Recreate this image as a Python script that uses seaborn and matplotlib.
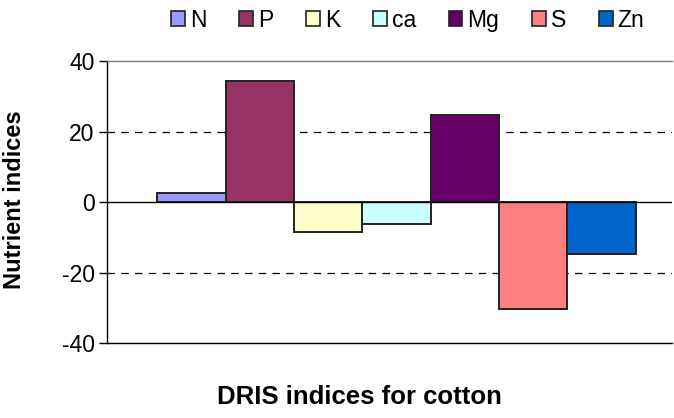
import pandas as pd
import seaborn as sns
import matplotlib.pyplot as plt
from matplotlib.patches import Patch

nutrients = ["N", "P", "K", "ca", "Mg", "S", "Zn"]
indices = [2.7, 34.4, -8.4, -6.3, 24.7, -30.4, -14.7]
colors = ["#9999FF", "#993366", "#FFFFCC", "#CCFFFF", "#660066", "#FF8080", "#0066CC"]
y_ticks = [-40, -20, 0, 20, 40]

df = pd.DataFrame({"crop": "cotton", "nutrient": nutrients, "index": indices})

sns.set_style("white")
plt.rcParams['font.family'] = ['Liberation Sans', 'DejaVu Sans']
plt.rcParams['text.color'] = 'black'
plt.rcParams['axes.labelcolor'] = 'black'
plt.rcParams['ytick.color'] = 'black'

fig = plt.figure(figsize=(6.74, 4.18), dpi=100)
ax = fig.add_axes([0.1588, 0.1794, 0.8382, 0.6746])

sns.barplot(data=df, x="crop", y="index", hue="nutrient", hue_order=nutrients,
            palette=colors, edgecolor="#222222", linewidth=1.4, width=0.8,
            saturation=1, errorbar=None, ax=ax, legend=False)

ax.set_ylim(-40, 40)
ax.set_xlim(-0.4837, 0.4603)
ax.set_yticks(y_ticks)
ax.set_yticklabels([str(t) for t in y_ticks], fontsize=16.5, color="black")
ax.set_xticks([])
ax.tick_params(axis="y", direction="out", length=6, width=1, color="black", left=True, pad=3)

# gridlines
for v in [20, -20]:
    ax.axhline(v, color="black", lw=0.9, ls=(0, (6, 5)), zorder=0)
ax.axhline(0, color="black", lw=1.0, zorder=3)

ax.spines["right"].set_visible(False)
ax.spines["top"].set_color("#777777")
ax.spines["top"].set_linewidth(1.0)
ax.spines["bottom"].set_color("black")
ax.spines["bottom"].set_linewidth(1.0)
ax.spines["left"].set_color("black")
ax.spines["left"].set_linewidth(1.0)

ax.set_ylabel("Nutrient indices", fontsize=17, fontweight="bold", color="black")
ax.yaxis.set_label_coords(-0.143, 0.507)
ax.set_xlabel("DRIS indices for cotton", fontsize=18.5, fontweight="bold", color="black")
ax.xaxis.set_label_coords(0.446, -0.148)

handles = [Patch(facecolor=c, edgecolor="#222222", linewidth=1.2) for c in colors]
fig.legend(handles, nutrients, loc="center", bbox_to_anchor=(0.605, 0.952), ncol=7,
           frameon=False, fontsize=16.5, handlelength=0.6, handleheight=0.6,
           handletextpad=0.22, columnspacing=1.43, borderpad=0.1,
           labelcolor="black")

fig.savefig("out.png", dpi=100)
